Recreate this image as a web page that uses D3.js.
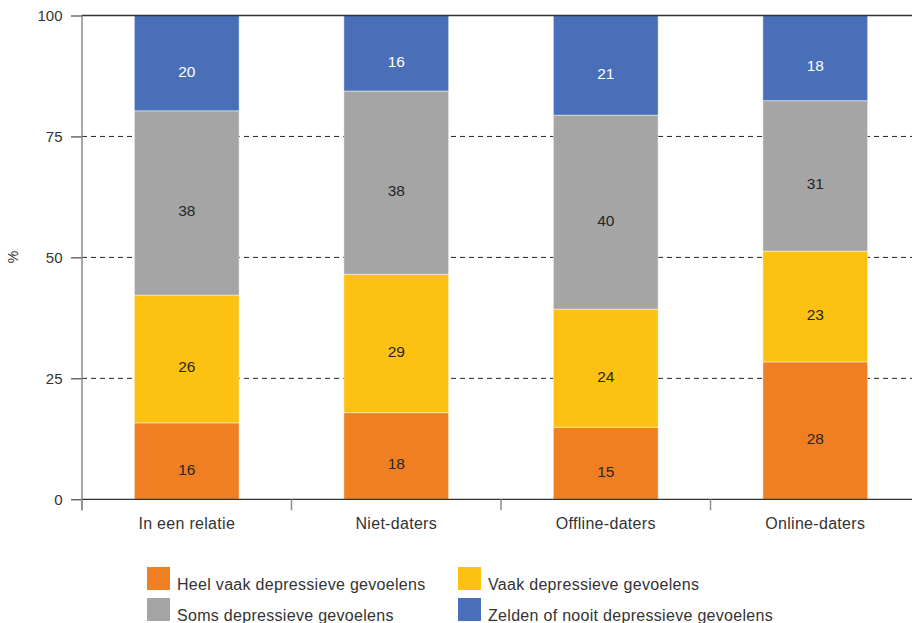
<!DOCTYPE html>
<html>
<head>
<meta charset="utf-8">
<script src="https://cdn.jsdelivr.net/npm/d3@7"></script>
<style>
  html, body { margin: 0; padding: 0; background: #fff; }
  svg { display: block; font-family: "Liberation Sans", Arial, sans-serif; }
</style>
</head>
<body>
<svg id="chart" width="912" height="623"></svg>
<script>
// Groups along the x axis
const categories = ["In een relatie", "Niet-daters", "Offline-daters", "Online-daters"];

// Share (%) per group, stacked bottom to top
const heelVaak = [15.8, 17.9, 14.9, 28.4];
const vaak     = [26.4, 28.6, 24.4, 22.9];
const soms     = [38.1, 37.9, 40.1, 31.1];
const zelden   = [19.7, 15.6, 20.6, 17.6];

const seriesNames = [
  "Heel vaak depressieve gevoelens",
  "Vaak depressieve gevoelens",
  "Soms depressieve gevoelens",
  "Zelden of nooit depressieve gevoelens"
];
const seriesValues = [heelVaak, vaak, soms, zelden];
const seriesColors = ["#F07F23", "#FDC112", "#A5A5A5", "#496FB8"];
const labelColors  = ["#262626", "#262626", "#262626", "#ffffff"];

const yTicks = [0, 25, 50, 75, 100];

const svg = d3.select("#chart");
const plotLeft = 82, plotRight = 920, plotTop = 15.5, plotBottom = 499.3;

const x = d3.scaleBand().domain(categories).range([plotLeft, plotRight])
  .paddingInner(0.5).paddingOuter(0.25);
const y = d3.scaleLinear().domain([0, 100]).range([plotBottom, plotTop]);

// Dashed gridlines
svg.append("g").selectAll("line").data([25, 50, 75]).join("line")
  .attr("x1", plotLeft).attr("x2", 912)
  .attr("y1", d => y(d)).attr("y2", d => y(d))
  .attr("stroke", "#222").attr("stroke-width", 1)
  .attr("stroke-dasharray", "5,4");

// Stacked data
const rows = categories.map((c, i) => {
  const r = { cat: c };
  seriesNames.forEach((s, k) => r[s] = seriesValues[k][i]);
  return r;
});
const stacked = d3.stack().keys(seriesNames)(rows);

const layers = svg.append("g").selectAll("g").data(stacked).join("g")
  .attr("fill", (d, k) => seriesColors[k]);

layers.selectAll("rect").data(d => d).join("rect")
  .attr("x", d => x(d.data.cat))
  .attr("width", x.bandwidth())
  .attr("y", d => y(d[1]))
  .attr("height", d => y(d[0]) - y(d[1]))
  .attr("stroke", "rgba(255,255,255,0.45)")
  .attr("stroke-width", 1);

// Value labels, set slightly below the segment centre
stacked.forEach((layer, k) => {
  svg.append("g").selectAll("text").data(layer).join("text")
    .attr("x", d => x(d.data.cat) + x.bandwidth() / 2)
    .attr("y", d => (y(d[0]) + y(d[1])) / 2 + 8)
    .attr("dy", "0.35em")
    .attr("text-anchor", "middle")
    .attr("font-size", 15.5)
    .attr("fill", labelColors[k])
    .text(d => d3.format(".0f")(d[1] - d[0]));
});

// Y axis
const yAxis = svg.append("g").attr("transform", `translate(${plotLeft},0)`)
  .call(d3.axisLeft(y).tickValues(yTicks).tickSize(11).tickPadding(8.5));
yAxis.select(".domain").remove();
yAxis.selectAll(".tick line").attr("stroke", "#222");
yAxis.selectAll(".tick text").attr("font-size", 15).attr("fill", "#333")
  .attr("font-family", "Liberation Sans, Arial, sans-serif");

svg.append("line")
  .attr("x1", plotLeft).attr("x2", plotLeft).attr("y1", plotTop).attr("y2", plotBottom + 11)
  .attr("stroke", "#8c8c8c").attr("stroke-width", 1.5);

// Top and bottom frame lines
svg.append("line").attr("x1", plotLeft).attr("x2", 912)
  .attr("y1", y(100)).attr("y2", y(100)).attr("stroke", "#333").attr("stroke-width", 1.3);
svg.append("line").attr("x1", plotLeft).attr("x2", 912)
  .attr("y1", y(0)).attr("y2", y(0)).attr("stroke", "#333").attr("stroke-width", 1.3);

// Category separators on the x axis
const step = x.step();
svg.append("g").selectAll("line").data(d3.range(categories.length)).join("line")
  .attr("x1", i => plotLeft + i * step).attr("x2", i => plotLeft + i * step)
  .attr("y1", plotBottom).attr("y2", plotBottom + 11)
  .attr("stroke", "#8c8c8c").attr("stroke-width", 1.5);

// Category labels
svg.append("g").selectAll("text").data(categories).join("text")
  .attr("x", d => x(d) + x.bandwidth() / 2)
  .attr("y", 529)
  .attr("text-anchor", "middle")
  .attr("font-size", 16)
  .attr("letter-spacing", 0.3)
  .attr("fill", "#333")
  .text(d => d);

// Y axis title
svg.append("text")
  .attr("transform", "translate(18,257) rotate(-90)")
  .attr("text-anchor", "middle")
  .attr("font-size", 14)
  .attr("fill", "#333")
  .text("%");

// Legend
const legend = svg.append("g");
const legendPos = [[147, 567], [458, 567], [147, 598], [458, 598]];
seriesNames.forEach((s, k) => {
  const [lx, ly] = legendPos[k];
  legend.append("rect").attr("x", lx).attr("y", ly).attr("width", 23).attr("height", 23)
    .attr("fill", seriesColors[k]);
  legend.append("text").attr("x", lx + 30).attr("y", ly + 22.5)
    .attr("font-size", 16).attr("letter-spacing", 0.3)
    .attr("fill", "#333").text(s);
});
</script>
</body>
</html>
